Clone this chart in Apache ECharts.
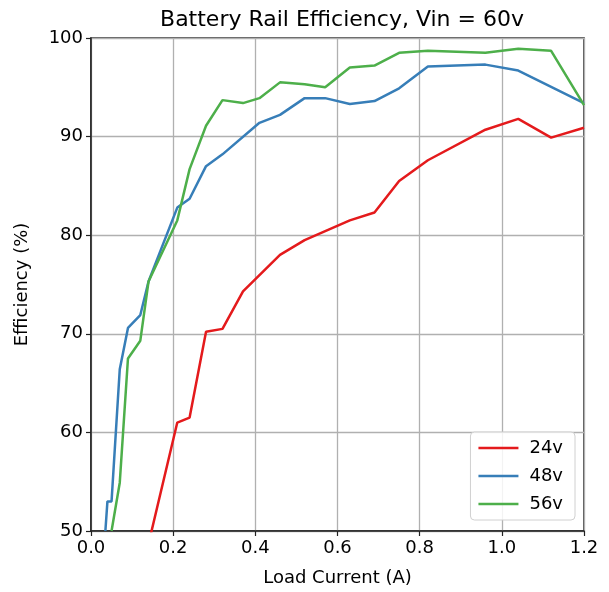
<!DOCTYPE html>
<html>
<head>
<meta charset="utf-8">
<script src="https://cdn.jsdelivr.net/npm/echarts@6/dist/echarts.min.js"></script>
<style>
html,body{margin:0;padding:0;background:#fff;}
#chart{width:609px;height:592px;}
</style>
</head>
<body>
<div id="chart"></div>
<script>
const xTicks = [0.0, 0.2, 0.4, 0.6, 0.8, 1.0, 1.2];
const yTicks = [50, 60, 70, 80, 90, 100];

const seriesNames = ['24v', '48v', '56v'];

const x24 = [0.14, 0.21, 0.24, 0.28, 0.32, 0.37, 0.46, 0.52, 0.63, 0.69, 0.75, 0.82, 0.96, 1.04, 1.12, 1.2];
const y24 = [48.7, 61.0, 61.5, 70.2, 70.5, 74.3, 78.0, 79.5, 81.5, 82.3, 85.5, 87.6, 90.7, 91.8, 89.9, 90.9];

const x48 = [0.035, 0.04, 0.05, 0.07, 0.09, 0.12, 0.14, 0.21, 0.24, 0.28, 0.32, 0.41, 0.46, 0.52, 0.57, 0.63, 0.69, 0.75, 0.82, 0.96, 1.04, 1.2];
const y48 = [50.0, 53.0, 53.0, 66.4, 70.6, 71.9, 75.3, 82.8, 83.7, 87.0, 88.2, 91.4, 92.2, 93.9, 93.9, 93.3, 93.6, 94.9, 97.1, 97.3, 96.7, 93.4];

const x56 = [0.05, 0.07, 0.09, 0.12, 0.14, 0.21, 0.24, 0.28, 0.32, 0.37, 0.41, 0.46, 0.52, 0.57, 0.63, 0.69, 0.75, 0.82, 0.96, 1.04, 1.12, 1.2];
const y56 = [50.0, 54.9, 67.5, 69.3, 75.3, 81.5, 86.7, 91.1, 93.7, 93.4, 93.9, 95.5, 95.3, 95.0, 97.0, 97.2, 98.5, 98.7, 98.5, 98.9, 98.7, 93.2];

const colors = ['#e41a1c', '#377eb8', '#4daf4a'];

function zip(xs, ys) { return xs.map((x, i) => [x, ys[i]]); }
const allData = [zip(x24, y24), zip(x48, y48), zip(x56, y56)];

const FONT = 'DejaVu Sans';
const chart = echarts.init(document.getElementById('chart'), null, {renderer: 'canvas'});

const option = {
  animation: false,
  backgroundColor: '#fff',
  textStyle: {fontFamily: FONT, color: '#000'},
  title: {
    text: 'Battery Rail Efficiency, Vin = 60v',
    left: 337,
    top: 4,
    textAlign: 'center',
    textStyle: {fontFamily: FONT, fontSize: 22, fontWeight: 'normal', color: '#000'}
  },
  grid: {
    left: 91, right: 25, top: 38, bottom: 60,
    show: true, borderColor: '#222', borderWidth: 1.5, backgroundColor: 'transparent'
  },
  legend: {
    data: seriesNames,
    orient: 'vertical',
    right: 34,
    bottom: 72,
    icon: 'rect',
    itemWidth: 40,
    itemHeight: 2.5,
    itemGap: 10,
    padding: [7, 12, 7, 8],
    backgroundColor: 'rgba(255,255,255,0.85)',
    borderColor: '#d0d0d0',
    borderWidth: 1,
    borderRadius: 4,
    textStyle: {fontFamily: FONT, fontSize: 18, color: '#000', padding: [0, 0, 0, 6]}
  },
  xAxis: {
    type: 'value',
    min: xTicks[0], max: xTicks[xTicks.length - 1], interval: 0.2,
    name: 'Load Current (A)',
    nameLocation: 'middle',
    nameGap: 38,
    nameTextStyle: {fontFamily: FONT, fontSize: 18, color: '#000'},
    axisLine: {show: true, onZero: false, lineStyle: {color: '#222', width: 1.5}},
    axisTick: {show: true, inside: false, length: 5, lineStyle: {color: '#222', width: 1.2}},
    axisLabel: {fontFamily: FONT, fontSize: 18, color: '#000', margin: 8,
      formatter: v => v.toFixed(1)},
    splitLine: {show: true, lineStyle: {color: '#b0b0b0', width: 1.3}}
  },
  yAxis: {
    type: 'value',
    min: yTicks[0], max: yTicks[yTicks.length - 1], interval: 10,
    name: 'Efficiency (%)',
    nameLocation: 'middle',
    nameGap: 60,
    nameRotate: 90,
    nameTextStyle: {fontFamily: FONT, fontSize: 18, color: '#000'},
    axisLine: {show: true, onZero: false, lineStyle: {color: '#222', width: 1.5}},
    axisTick: {show: true, inside: false, length: 5, lineStyle: {color: '#222', width: 1.2}},
    axisLabel: {fontFamily: FONT, fontSize: 18, color: '#000', margin: 8},
    splitLine: {show: true, lineStyle: {color: '#b0b0b0', width: 1.3}}
  },
  series: seriesNames.map((n, i) => ({
    name: n,
    type: 'line',
    data: allData[i],
    showSymbol: false,
    symbol: 'none',
    clip: true,
    lineStyle: {color: colors[i], width: 2.5},
    itemStyle: {color: colors[i]},
    z: 3 + i
  }))
};
chart.setOption(option);
</script>
</body>
</html>
